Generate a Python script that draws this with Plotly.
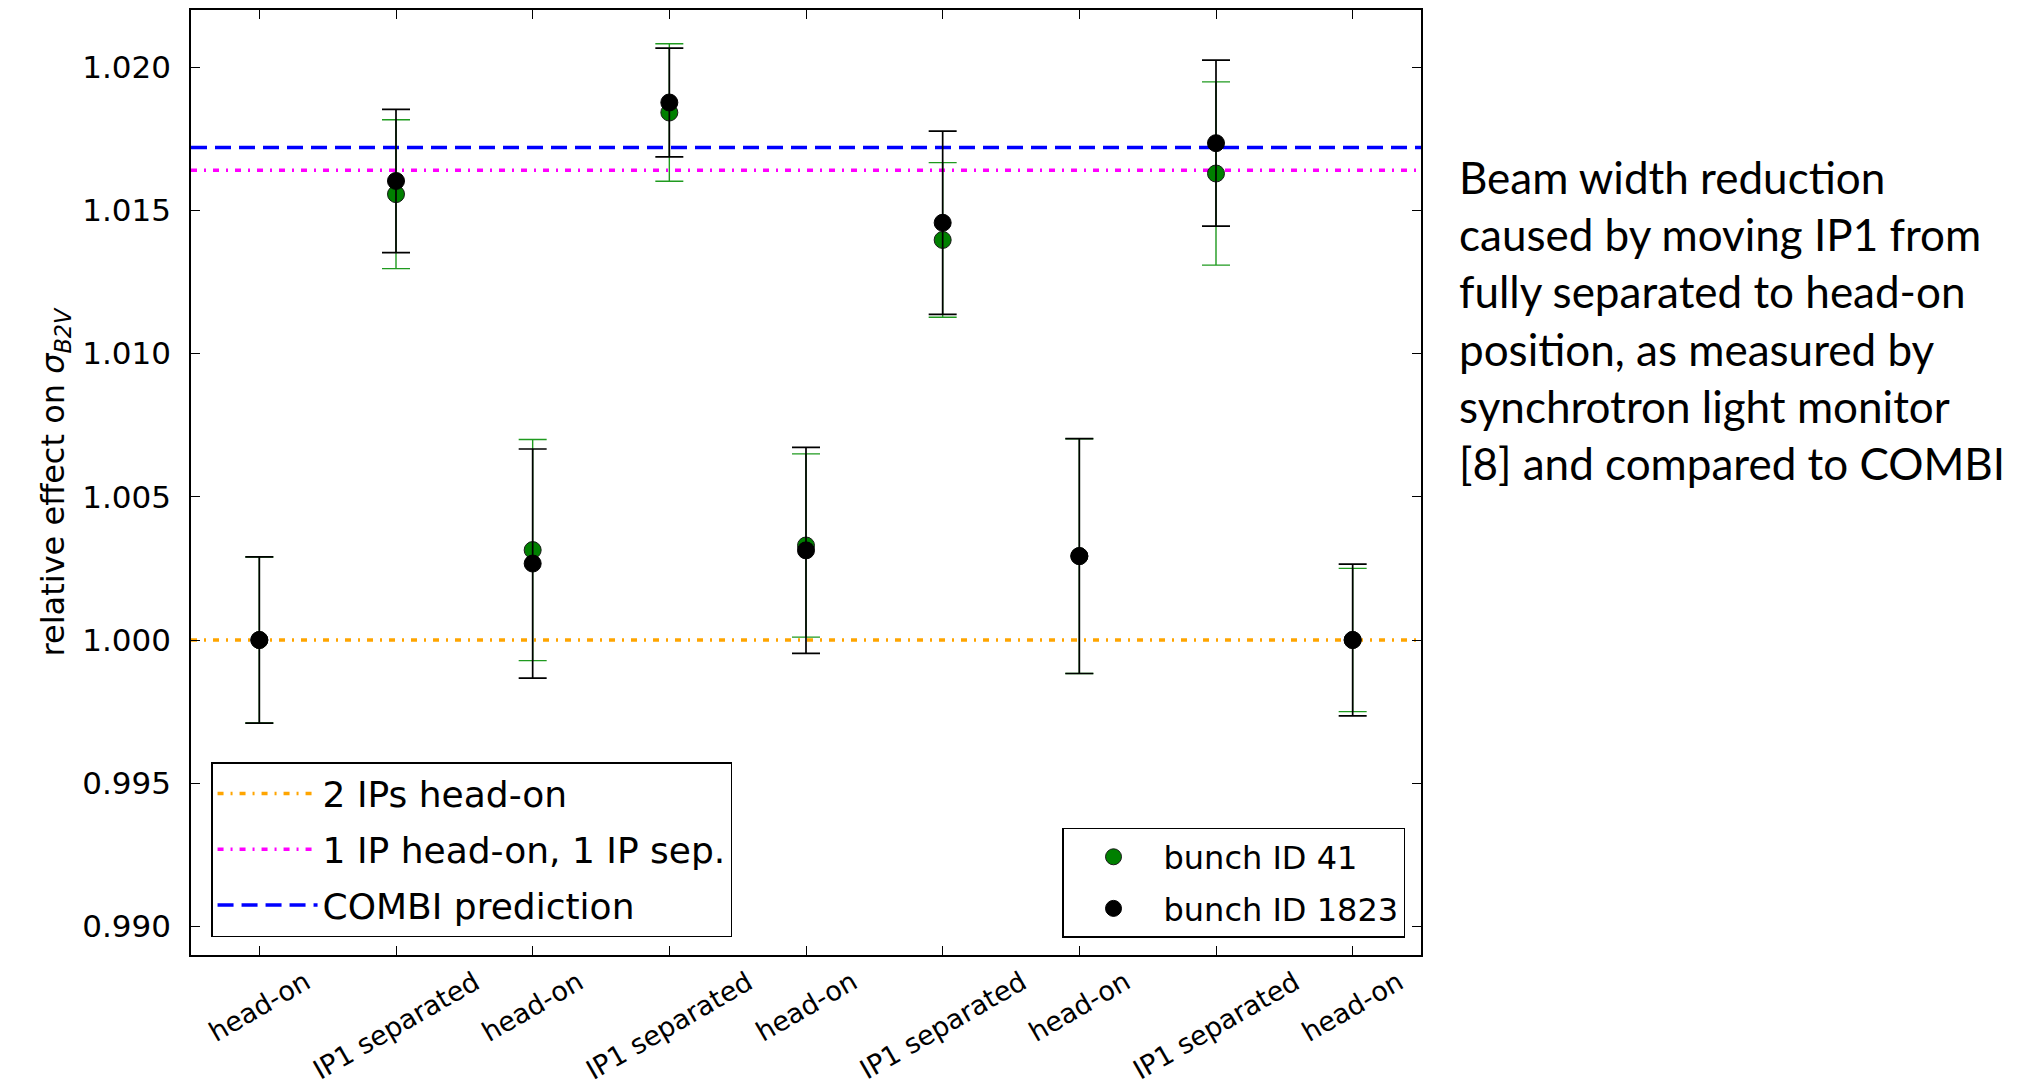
import plotly.graph_objects as go

# ---------------- data ----------------
categories = ["head-on", "IP1 separated", "head-on", "IP1 separated", "head-on",
              "IP1 separated", "head-on", "IP1 separated", "head-on"]
positions = list(range(len(categories)))

bunch41 = [1.0000, 1.01557, 1.00314, 1.01842, 1.00330, 1.01397, 1.00293, 1.01629, 1.0000]
err41 = [0.0029, 0.0026, 0.00386, 0.0024, 0.0032, 0.0027, 0.0041, 0.0032, 0.0025]

bunch1823 = [1.0000, 1.01603, 1.00267, 1.01877, 1.00313, 1.01457, 1.00293, 1.01735, 1.0000]
err1823 = [0.0029, 0.0025, 0.0040, 0.0019, 0.0036, 0.0032, 0.0041, 0.0029, 0.00265]

ref_names = ["2 IPs head-on", "1 IP head-on, 1 IP sep.", "COMBI prediction"]
ref_values = [1.0000, 1.0164, 1.0172]
ref_colors = ["#FFA500", "#FF00FF", "#0000FF"]
ref_dashes = ["6px,7px,2px,7px", "6px,7px,2px,7px", "16px,8px"]

y_ticks = [0.990, 0.995, 1.000, 1.005, 1.010, 1.015, 1.020]
y_range = [0.989, 1.022]

side_text = ("Beam width reduction<br>caused by moving IP1 from<br>fully separated to head-on"
             "<br>position, as measured by<br>synchrotron light monitor"
             "<br>[8] and compared to COMBI")

x_lo = positions[0] - 0.5
x_hi = positions[-1] + 0.5

fig = go.Figure()

# reference lines (legend 1)
for name, val, col, dash in zip(ref_names, ref_values, ref_colors, ref_dashes):
    fig.add_trace(go.Scatter(
        x=[x_lo, x_hi], y=[val, val], mode="lines", name=name,
        line=dict(color=col, width=3.5, dash=dash),
        legend="legend", legendgroup=name, hoverinfo="skip"))

# measurements (legend 2)
fig.add_trace(go.Scatter(
    x=positions, y=bunch41, mode="markers", name="bunch ID 41",
    marker=dict(color="#008000", size=17, line=dict(color="#1a1a1a", width=1)),
    error_y=dict(type="data", array=err41, visible=True, color="#1f9a1f",
                 thickness=1.4, width=14),
    legend="legend2", legendgroup="b41"))
fig.add_trace(go.Scatter(
    x=positions, y=bunch1823, mode="markers", name="bunch ID 1823",
    marker=dict(color="black", size=17, line=dict(color="black", width=1)),
    error_y=dict(type="data", array=err1823, visible=True, color="black",
                 thickness=1.7, width=14),
    legend="legend2", legendgroup="b1823"))

# x tick labels (center-aligned, rotated like the original)
for p, lab in zip(positions, categories):
    fig.add_annotation(x=p, y=0, xref="x", yref="paper", text=lab,
                       showarrow=False, textangle=-30, xanchor="center",
                       yanchor="top", yshift=-8,
                       font=dict(family="DejaVu Sans", size=27, color="black"))

fig.add_annotation(x=1.0293, y=0.6724, xref="paper", yref="paper", text=side_text,
                   showarrow=False, xanchor="left", yanchor="middle", align="left",
                   font=dict(family="Lato", size=44, color="black"))

axis_common = dict(showline=True, linecolor="black", linewidth=1.5, mirror="ticks",
                   ticks="inside", ticklen=9, tickwidth=1, tickcolor="black",
                   showgrid=False, zeroline=False, automargin=False)

fig.update_layout(
    width=2029, height=1086,
    margin=dict(l=191, r=608, t=10, b=131),
    paper_bgcolor="white", plot_bgcolor="white",
    font=dict(family="DejaVu Sans", color="black"),
    xaxis=dict(range=[x_lo, x_hi], tickvals=positions, showticklabels=False,
               **axis_common),
    yaxis=dict(range=y_range, tickvals=y_ticks, tickformat=".3f",
               tickfont=dict(family="DejaVu Sans", size=31),
               ticklabelstandoff=12,
               title=dict(text="relative effect on <i>σ</i><sub><i>B2V</i></sub>",
                          font=dict(family="DejaVu Sans", size=32), standoff=8),
               **axis_common),
    legend=dict(x=0.0163, y=0.019, xanchor="left", yanchor="bottom",
                bgcolor="white", bordercolor="black", borderwidth=1.5,
                font=dict(family="DejaVu Sans", size=36), itemwidth=100,
                tracegroupgap=6),
    legend2=dict(x=0.987, y=0.018, xanchor="right", yanchor="bottom",
                 bgcolor="white", bordercolor="black", borderwidth=1.5,
                 font=dict(family="DejaVu Sans", size=32), itemwidth=90,
                 tracegroupgap=7),
    showlegend=True,
)

fig.write_html("out.html")
